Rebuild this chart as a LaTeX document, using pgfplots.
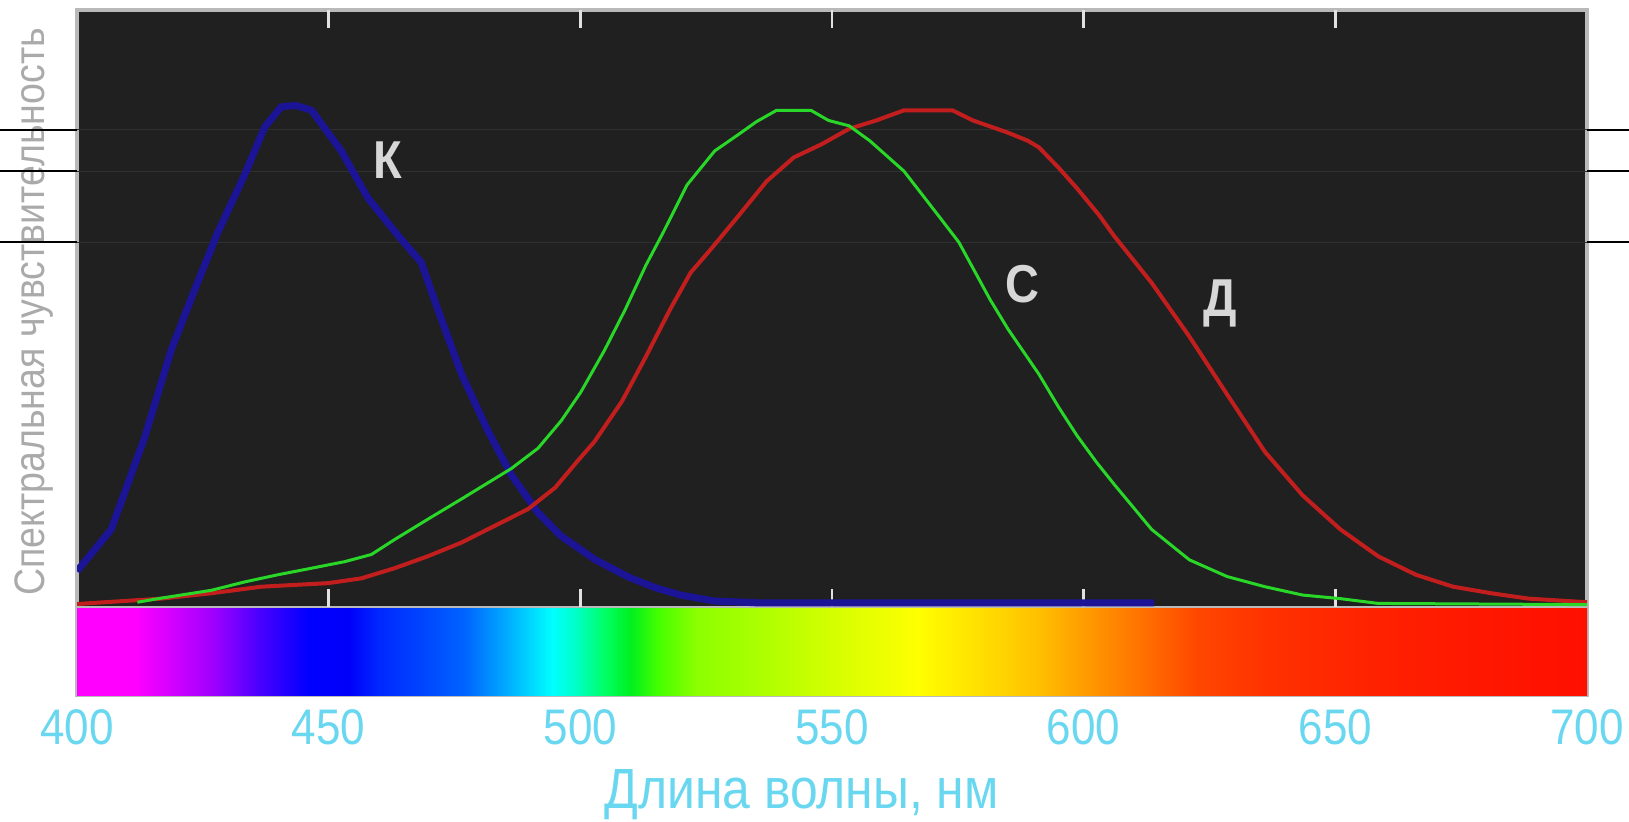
\documentclass[border=0pt]{standalone}
\usepackage{fontspec}
\setmainfont{Liberation Sans}
\newfontfamily\narrow{Liberation Sans}[FakeStretch=0.88]
\usepackage{pgfplots}
\pgfplotsset{compat=1.18}

\definecolor{bgdark}{RGB}{32,32,32}
\definecolor{framegrey}{RGB}{185,185,185}
\definecolor{tickwhite}{RGB}{225,225,225}
\definecolor{tickcyan}{RGB}{105,215,240}
\definecolor{ylgrey}{RGB}{170,170,170}
\definecolor{lblgrey}{RGB}{215,215,215}
\definecolor{faint}{RGB}{48,48,48}
\definecolor{blueK}{RGB}{28,20,150}
\definecolor{greenC}{RGB}{40,215,40}
\definecolor{redD}{RGB}{195,30,30}

% spectrum: path box is mapped to 25bp..75bp, i.e. pos = 25 + (lambda-400)/6
\pgfdeclarehorizontalshading{spectrum}{100bp}{%
  rgb(0bp)=(1,0,1); rgb(25bp)=(1,0,1); rgb(26.93bp)=(1,0,1);
  rgb(28.17bp)=(0.824,0,1); rgb(29.5bp)=(0.627,0,1); rgb(31.1bp)=(0.275,0,1);
  rgb(32.67bp)=(0,0,1); rgb(34bp)=(0,0,0.98); rgb(35bp)=(0,0.157,1);
  rgb(36.5bp)=(0,0.275,1); rgb(37.83bp)=(0,0.392,1); rgb(39bp)=(0,0.627,1);
  rgb(39.93bp)=(0,0.824,1); rgb(40.73bp)=(0,1,1); rgb(41.5bp)=(0,1,0.784);
  rgb(42.5bp)=(0,1,0.392); rgb(43.33bp)=(0,0.941,0.118); rgb(44.27bp)=(0.275,1,0);
  rgb(45.5bp)=(0.549,1,0); rgb(47.5bp)=(0.667,1,0); rgb(50bp)=(0.831,1,0);
  rgb(52.83bp)=(1,1,0); rgb(54.75bp)=(1,0.882,0); rgb(56.67bp)=(1,0.765,0);
  rgb(58.6bp)=(1,0.588,0); rgb(60.37bp)=(1,0.431,0); rgb(62.13bp)=(1,0.275,0);
  rgb(64.38bp)=(1,0.196,0); rgb(67.6bp)=(1,0.137,0); rgb(70.8bp)=(1,0.098,0);
  rgb(75bp)=(1,0.059,0); rgb(100bp)=(1,0.059,0)}

\pgfplotstableread{
lam v
400 6.0
406.8 13.0
413.4 28.3
418.7 43.0
423.4 53.2
428.0 62.8
433.3 72.4
437.3 80.4
440.6 83.8
443.5 84.0
446.6 83.2
452.5 76.4
457.8 68.5
463.8 62.2
468.4 57.7
471.7 49.8
476.4 39.0
481.7 29.4
486.3 22.1
491.6 15.8
496.0 12.0
502.8 8.0
509.6 5.0
515.0 3.2
519.9 2.0
526.7 1.0
535.0 0.7
614.0 0.7
}\blueK

\pgfplotstableread{
lam v
412.0 0.8
416.1 1.4
426.7 2.8
433.3 4.2
439.9 5.4
446.6 6.5
453.2 7.6
458.5 8.8
463.1 11.3
469.7 14.7
476.4 18.1
483.0 21.5
486.3 23.2
491.6 26.6
496.2 31.2
500.1 36.0
504.8 43.0
508.9 49.8
513.0 57.2
516.5 62.8
521.2 70.7
526.7 76.4
531.5 79.2
535.0 81.3
539.0 83.2
545.8 83.2
549.3 81.5
553.4 80.6
557.5 78.1
564.3 73.0
571.1 65.6
575.2 61.1
581.4 51.5
585.0 46.5
591.1 39.0
595.0 33.5
598.6 28.8
602.5 24.3
606.0 20.6
613.5 13.0
621.0 7.9
628.5 5.1
636.0 3.4
643.5 2.0
651.0 1.4
658.5 0.6
700.0 0.4
}\greenC

\pgfplotstableread{
lam v
400.0 0.5
416.7 1.4
426.7 2.3
436.6 3.4
449.9 4.0
456.5 4.8
463.1 6.5
469.7 8.5
476.4 10.8
483.0 13.6
489.6 16.4
495.0 20.0
499.5 24.5
502.8 27.7
508.3 34.5
513.0 41.9
517.8 49.8
521.9 56.0
526.0 60.0
531.5 65.6
537.0 71.3
542.4 75.3
547.9 77.5
553.4 80.1
558.8 81.5
564.3 83.2
573.9 83.2
578.0 81.5
584.8 79.5
588.9 78.1
591.1 77.0
595.0 73.6
598.6 70.2
603.1 65.6
606.0 62.2
613.5 54.3
621.0 45.3
628.5 35.6
636.0 26.0
643.5 18.7
651.0 13.0
658.5 8.5
666.0 5.4
673.4 3.4
681.0 2.3
688.4 1.4
700.0 0.8
}\redD

\begin{document}
\begin{tikzpicture}
\useasboundingbox (-23.1pt,-37.8pt) rectangle (465.6pt,208.5pt);
\begin{axis}[
  at={(0pt,0pt)}, anchor=south west,
  scale only axis, width=453pt, height=205.5pt,
  xmin=400, xmax=700, ymin=-14.74, ymax=100,
  axis background/.style={fill=bgdark},
  axis line style={framegrey, line width=1.2pt},
  xtick={400,450,...,700},
  xticklabels={400,450,500,550,600,650,700},
  ytick=\empty,
  major tick length=0pt, tick style={draw=none},
  xticklabel style={font=\narrow\fontsize{15}{15}\selectfont, text=tickcyan,
    anchor=center, yshift=-9.6pt},
]
% colour bar under the curves
\shade[shading=spectrum] (axis cs:400,-14.74) rectangle (axis cs:700,0);
\draw[framegrey, line width=0.5pt] (axis cs:400,0) -- (axis cs:700,0);

% faint scan lines
\draw[faint, line width=0.3pt] (axis cs:400,79.9) -- (axis cs:700,79.9);
\draw[faint, line width=0.3pt] (axis cs:400,73.0) -- (axis cs:700,73.0);
\draw[faint, line width=0.3pt] (axis cs:400,61.1) -- (axis cs:700,61.1);

\pgfplotsinvokeforeach{450,500,550,600,650}{
  \draw[tickwhite, line width=0.8pt] (axis cs:#1,100) -- ++(0pt,-5.4pt);
  \draw[tickwhite, line width=0.8pt] (axis cs:#1,0) -- ++(0pt,5.4pt);
}

\addplot[blueK, line width=2.1pt, no marks, line join=round] table[x=lam,y=v] {\blueK};
\addplot[redD, line width=1.2pt, no marks, line join=round] table[x=lam,y=v] {\redD};
\addplot[greenC, line width=0.9pt, no marks, line join=round] table[x=lam,y=v] {\greenC};

\node[text=lblgrey, font=\narrow\bfseries\fontsize{16}{16}\selectfont] at (axis cs:461.8,74.9) {К};
\node[text=lblgrey, font=\narrow\bfseries\fontsize{16}{16}\selectfont] at (axis cs:587.8,54.1) {С};
\node[text=lblgrey, font=\narrow\bfseries\fontsize{16}{16}\selectfont] at (axis cs:627.1,50.8) {Д};
\end{axis}
% axis titles, outside the clipped axis
\node[text=tickcyan, font=\narrow\fontsize{17}{17}\selectfont, anchor=base, inner sep=0pt]
  at (217.4pt,-34pt) {Длина волны, нм};
\node[text=ylgrey, font=\narrow\fontsize{12.8}{12.8}\selectfont, rotate=90, anchor=base]
  at (-9.6pt,114.9pt) {Спектральная чувствительность};
% scan lines outside the frame
\foreach \yy in {169.5,157.2,135.9}{
  \draw[black, line width=0.45pt] (-23.1pt,\yy pt) -- (0pt,\yy pt);
  \draw[black, line width=0.45pt] (453pt,\yy pt) -- (465.6pt,\yy pt);
}
\end{tikzpicture}
\end{document}
